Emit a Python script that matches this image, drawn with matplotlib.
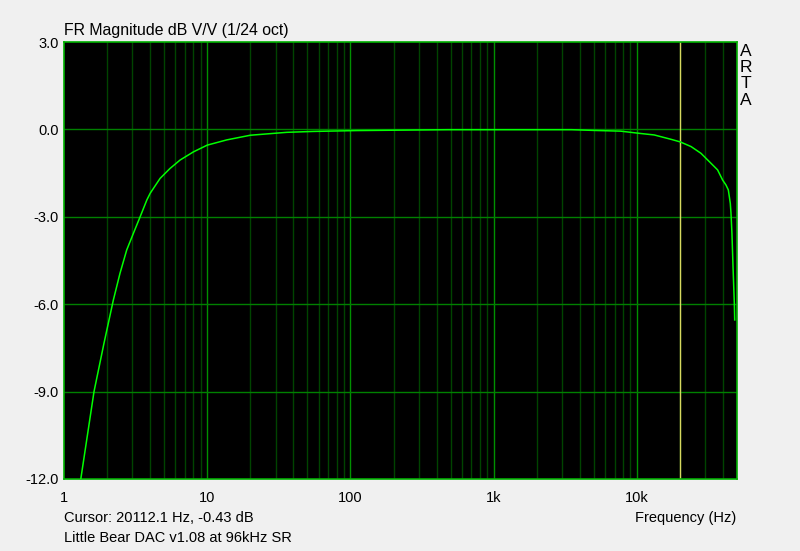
import numpy as np
import matplotlib.pyplot as plt
from matplotlib.ticker import FixedLocator, NullFormatter

plt.rcParams['font.family'] = ['Liberation Sans', 'DejaVu Sans']

# frequency response
freq_hz = [1.31, 1.62, 1.9, 2.21, 2.46, 2.74, 3.05, 3.4, 3.79, 4.0, 4.69, 5.5,
           6.47, 8.02, 10, 13.7, 20, 36, 55, 111, 480, 1000, 3500, 5000, 7700,
           10600, 13200, 17300, 20100, 23900, 28000, 32100, 36600, 39700, 41900,
           43500, 44200, 44900, 45400, 46100, 46900, 47900, 48200]
mag_db = [-12.0, -9.0, -7.35, -5.86, -4.94, -4.14, -3.57, -3.0, -2.42, -2.19,
          -1.68, -1.34, -1.05, -0.77, -0.54, -0.36, -0.2, -0.1, -0.07, -0.04, -0.01,
          -0.01, -0.01, -0.035, -0.06, -0.14, -0.19, -0.34, -0.43, -0.59, -0.82,
          -1.11, -1.39, -1.74, -1.91, -2.08, -2.31, -2.54, -2.88, -3.57, -4.71,
          -5.97, -6.54]

cursor_hz = 20112.1
y_ticks = [3.0, 0.0, -3.0, -6.0, -9.0, -12.0]
x_ticks = [1, 10, 100, 1000, 10000]
x_labels = ['1', '10', '100', '1k', '10k']
brand = ['A', 'R', 'T', 'A']

bg = '#f0f0f0'
fig = plt.figure(figsize=(8, 5.51), dpi=100, facecolor=bg)
ax = fig.add_axes([64 / 800, 1 - 479 / 551, 673 / 800, 437 / 551])
ax.set_facecolor('black')

ax.set_xscale('log')
ax.set_xlim(1, 50000)
ax.set_ylim(-12, 3)

# grid: minor decades dark green, decades brighter
minor = [m * 10 ** d for d in range(0, 5) for m in range(2, 10) if m * 10 ** d < 50000]
for f in minor:
    ax.axvline(f, color='#004400', lw=1, zorder=1)
for f in x_ticks[1:]:
    ax.axvline(f, color='#009000', lw=1, zorder=1)
for v in y_ticks[1:-1]:
    ax.axhline(v, color='#008000', lw=1, zorder=1)

ax.axvline(cursor_hz, color='#d8d860', lw=1, zorder=2)
ax.plot(freq_hz, mag_db, color='#00ff00', lw=1.1, zorder=3)

for s in ax.spines.values():
    s.set_color('#00b000')
    s.set_linewidth(1.2)

ax.xaxis.set_major_locator(FixedLocator(x_ticks))
ax.set_xticklabels(x_labels)
ax.xaxis.set_minor_formatter(NullFormatter())
ax.set_yticks(y_ticks)
ax.set_yticklabels(['%.1f' % v for v in y_ticks])
ax.tick_params(which='both', length=0, labelsize=10.5, colors='black')
ax.tick_params(axis='x', pad=9)
ax.tick_params(axis='y', pad=4)

fs = 10.5
fig.text(64 / 800, 1 - 31 / 551, 'FR Magnitude dB V/V (1/24 oct)', fontsize=11.4, va='center')
for i, ch in enumerate(brand):
    fig.text(746 / 800, 1 - (51 + i * 16.5) / 551, ch, fontsize=12.5,
             ha='center', va='center')
fig.text(64 / 800, 1 - 518 / 551, 'Cursor: %.1f Hz, -0.43 dB' % cursor_hz, fontsize=fs, va='center')
fig.text(64 / 800, 1 - 538 / 551, 'Little Bear DAC v1.08 at 96kHz SR', fontsize=fs, va='center')
fig.text(736 / 800, 1 - 518 / 551, 'Frequency (Hz)', fontsize=fs, ha='right', va='center')

fig.savefig('out.png', dpi=100, facecolor=bg)
